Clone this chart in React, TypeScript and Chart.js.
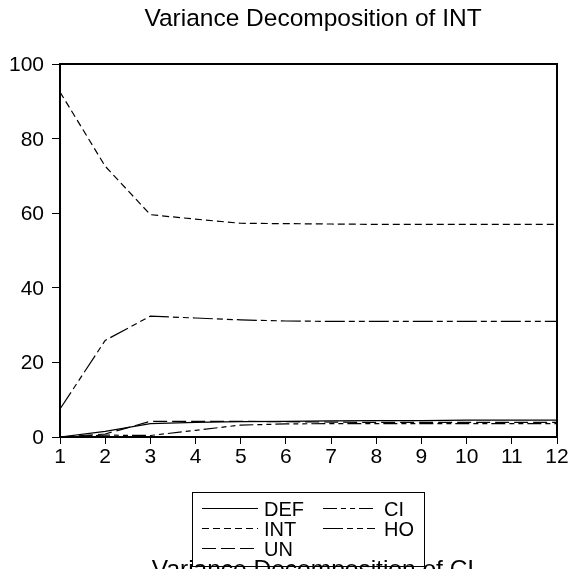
import { useEffect, useRef } from 'react';
import { Chart, registerables } from 'chart.js';

Chart.register(...registerables);

const periods = [1, 2, 3, 4, 5, 6, 7, 8, 9, 10, 11, 12];
const DEF = [0, 1.5, 3.6, 3.9, 4.1, 4.2, 4.3, 4.4, 4.4, 4.5, 4.5, 4.5];
const CI = [0, 0.5, 0.4, 1.8, 3.2, 3.5, 3.6, 3.6, 3.6, 3.6, 3.6, 3.6];
const INT = [92.5, 72.6, 59.6, 58.4, 57.3, 57.2, 57.1, 57.0, 57.0, 57.0, 57.0, 57.0];
const HO = [7.5, 25.9, 32.4, 31.9, 31.4, 31.1, 31.0, 31.0, 31.0, 31.0, 31.0, 31.0];
const UN = [0, 0.8, 4.2, 4.2, 4.2, 4.1, 4.0, 3.9, 3.9, 3.9, 3.9, 3.9];
const yTickValues = [0, 20, 40, 60, 80, 100];
const xTickValues = periods;
const title = 'Variance Decomposition of INT';
const nextTitle = 'Variance Decomposition of CI';

const FONT = '"Liberation Sans", Arial, Helvetica, sans-serif';

const series = [
  { label: 'DEF', values: DEF, dash: [] as number[] },
  { label: 'CI', values: CI, dash: [14, 4, 5, 4, 5, 4] },
  { label: 'INT', values: INT, dash: [7, 4] },
  { label: 'HO', values: HO, dash: [20, 4, 6, 4, 6, 4] },
  { label: 'UN', values: UN, dash: [14, 5] },
];

function drawText(
  ctx: CanvasRenderingContext2D,
  text: string,
  x: number,
  y: number,
  size: number,
  align: CanvasTextAlign,
  baseline: CanvasTextBaseline
) {
  ctx.save();
  ctx.font = `${size}px ${FONT}`;
  ctx.fillStyle = '#000';
  ctx.textAlign = align;
  ctx.textBaseline = baseline;
  ctx.fillText(text, x, y);
  ctx.restore();
}

const decorPlugin = {
  id: 'decor',
  afterDraw(chart: any) {
    const ctx: CanvasRenderingContext2D = chart.ctx;
    const { left, right, top, bottom } = chart.chartArea;
    const xs = chart.scales.x;
    const ys = chart.scales.y;

    // frame
    ctx.save();
    ctx.strokeStyle = '#000';
    ctx.lineWidth = 2;
    ctx.strokeRect(left, top, right - left, bottom - top);
    ctx.restore();

    // title
    drawText(ctx, title, 313, 26, 24.5, 'center', 'alphabetic');

    // y tick labels
    yTickValues.forEach((v) => {
      drawText(ctx, String(v), 44, ys.getPixelForValue(v) + 7, 21, 'right', 'alphabetic');
    });
    // x tick labels
    xTickValues.forEach((v) => {
      drawText(ctx, String(v), xs.getPixelForValue(v), 463, 21, 'center', 'alphabetic');
    });

    // legend
    ctx.save();
    ctx.strokeStyle = '#000';
    ctx.lineWidth = 1;
    ctx.strokeRect(192.5, 492.5, 232, 74);
    const cols = [
      { lx0: 202, lx1: 258, tx: 264 },
      { lx0: 323, lx1: 375, tx: 384 },
    ];
    series.forEach((s, i) => {
      const row = Math.floor(i / 2);
      const col = cols[i % 2];
      const ly = 508.5 + row * 20;
      ctx.beginPath();
      ctx.setLineDash(s.dash);
      ctx.moveTo(col.lx0, ly);
      ctx.lineTo(col.lx1, ly);
      ctx.stroke();
      ctx.setLineDash([]);
      drawText(ctx, s.label, col.tx, 515.5 + row * 20, 20, 'left', 'alphabetic');
    });
    ctx.restore();

    // next chart's title, clipped at the bottom edge
    drawText(ctx, nextTitle, 313, 577, 24.5, 'center', 'alphabetic');
  },
};

export default function App() {
  const ref = useRef<HTMLCanvasElement | null>(null);

  useEffect(() => {
    if (!ref.current) return;
    const chart = new Chart(ref.current, {
      type: 'line',
      data: {
        datasets: series.map((s) => ({
          label: s.label,
          data: periods.map((p, i) => ({ x: p, y: s.values[i] })),
          borderColor: '#000',
          borderWidth: 1.2,
          borderDash: s.dash,
          pointRadius: 0,
          fill: false,
          tension: 0,
        })),
      },
      options: {
        animation: false,
        responsive: false,
        devicePixelRatio: 1,
        layout: { padding: { left: 0, top: 64, right: 22, bottom: 0 } },
        plugins: {
          legend: { display: false },
          title: { display: false },
          tooltip: { enabled: false },
        },
        scales: {
          x: {
            type: 'linear',
            min: 1,
            max: 12,
            ticks: { stepSize: 1, display: false },
            grid: {
              drawOnChartArea: false,
              drawTicks: true,
              tickLength: 7,
              color: '#000',
              lineWidth: 1,
            },
            border: { display: false },
            afterFit: (s: any) => {
              s.height = 569 - 437;
            },
          },
          y: {
            min: 0,
            max: 100,
            ticks: { stepSize: 20, display: false },
            grid: {
              drawOnChartArea: false,
              drawTicks: true,
              tickLength: 8,
              color: '#000',
              lineWidth: 1,
            },
            border: { display: false },
            afterFit: (s: any) => {
              s.width = 60;
            },
          },
        },
      },
      plugins: [decorPlugin],
    });
    return () => chart.destroy();
  }, []);

  return (
    <div style={{ position: 'absolute', left: 0, top: 0, width: 579, height: 569, background: '#fff' }}>
      <canvas ref={ref} width={579} height={569} style={{ display: 'block' }} />
    </div>
  );
}
